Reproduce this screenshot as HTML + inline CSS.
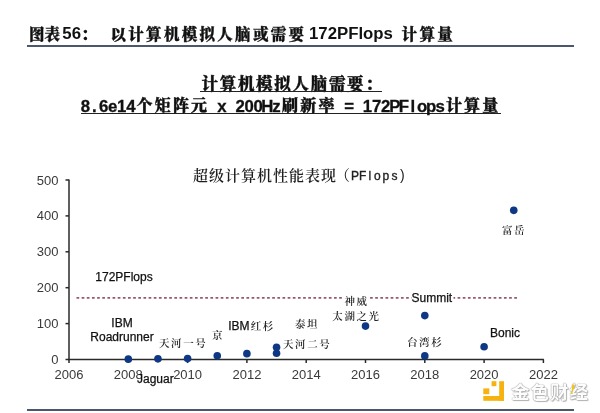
<!DOCTYPE html>
<html lang="zh-CN">
<head>
<meta charset="utf-8">
<style>
html,body{margin:0;padding:0;background:#fff;}
body{width:600px;height:413px;position:relative;overflow:hidden;}
.abs{position:absolute;white-space:nowrap;}
.t{font-size:15.5px;line-height:20px;color:#111;}
.cn{font-family:"Noto Serif CJK SC",serif;font-weight:900;-webkit-text-stroke:0.35px #111;}
.la{font-family:"Liberation Sans",Arial,sans-serif;font-weight:bold;font-size:16.8px;}
.mo{font-family:"Noto Sans Mono CJK SC",monospace;font-weight:bold;}
#hline{left:27px;top:45px;width:547px;height:2px;background:#4b576a;}
#bline{left:27px;top:409px;width:547px;height:2px;background:#4b576a;}
.s1{font-size:18.2px;line-height:22px;color:#111;}
.s1 .cn, .s1.cn{font-size:16.5px;letter-spacing:1.7px;}
.ul{height:1.5px;background:#222;}
svg{position:absolute;left:0;top:0;}
.lat{font-family:"Liberation Sans",Arial,sans-serif;font-size:12px;fill:#111;stroke:#111;stroke-width:0.25px;}
.cjk{font-family:"Noto Serif CJK SC",serif;font-weight:600;font-size:10.5px;letter-spacing:1.6px;fill:#222;}
.ax{font-family:"Liberation Sans",Arial,sans-serif;font-size:13px;fill:#3a3a3a;}
#wm{left:511px;top:379.5px;font:bold 18.5px/22px "Noto Sans CJK SC",sans-serif;color:#fcfcfc;letter-spacing:1px;
 text-shadow:0 0 1px #888,0 0 1px #999,1px 1px 1px #bbb;}
</style>
</head>
<body>
<div class="abs t cn" style="left:29px;top:23.4px;">图表</div>
<div class="abs t la" style="left:62.3px;top:23.5px;">56</div>
<div class="abs t cn" style="left:81px;top:23.4px;">：</div>
<div class="abs t cn" style="left:110.5px;top:23.4px;letter-spacing:2.3px;">以计算机模拟人脑或需要</div>
<div class="abs t la" style="left:309px;top:23.5px;">172PFlops</div>
<div class="abs t cn" style="left:401.5px;top:23.4px;letter-spacing:2.4px;">计算量</div>
<div class="abs" id="hline"></div>
<div class="abs s1 cn" style="left:201.5px;top:71.5px;">计算机模拟人脑需要：</div>
<div class="abs ul" style="left:200px;top:90.5px;width:182px;"></div>
<div class="abs ul" style="left:81px;top:112.5px;width:419.5px;"></div>

<svg width="600" height="413" viewBox="0 0 600 413">
  <text text-anchor="middle" fill="#111" stroke="#111" style="white-space:pre"><tspan x="85.35 94.45 103.55 112.65 121.75 130.85" y="111.6" font-family="Liberation Sans, Arial, sans-serif" font-weight="bold" font-size="16.8" stroke-width="0.3">8.6e14</tspan><tspan x="144.50 162.70 180.90 199.10" y="110.6" font-family="Noto Serif CJK SC, serif" font-weight="900" font-size="16" stroke-width="0.35">个矩阵元</tspan><tspan x="212.75 221.85 230.95 240.05 249.15 258.25 267.35 276.45" y="111.6" font-family="Liberation Sans, Arial, sans-serif" font-weight="bold" font-size="16.8" stroke-width="0.3"> x 200Hz</tspan><tspan x="290.10 308.30 326.50" y="110.6" font-family="Noto Serif CJK SC, serif" font-weight="900" font-size="16" stroke-width="0.35">刷新率</tspan><tspan x="340.15 349.25 358.35 367.45 376.55 385.65 394.75 403.85 412.95 422.05 431.15 440.25" y="111.6" font-family="Liberation Sans, Arial, sans-serif" font-weight="bold" font-size="16.8" stroke-width="0.3"> = 172PFlops</tspan><tspan x="453.90 472.10 490.30" y="110.6" font-family="Noto Serif CJK SC, serif" font-weight="900" font-size="16" stroke-width="0.35">计算量</tspan></text>
  <text x="193" y="180.5" font-family="Noto Serif CJK SC, serif" font-weight="600" font-size="15" letter-spacing="1" fill="#1e1e1e">超级计算机性能表现</text>
  <text x="335" y="180.5" font-family="Noto Serif CJK SC, serif" font-size="15" fill="#1e1e1e">（</text>
  <text x="351 359.1 368.4 374.1 382.4 391.5" y="179.5" font-family="Liberation Sans, Arial, sans-serif" font-size="12" fill="#222" stroke="#222" stroke-width="0.35">PFlops</text>
  <text x="400" y="179.5" font-family="Liberation Sans, Arial, sans-serif" font-size="14" fill="#222">)</text>
  <line x1="76.5" y1="297.9" x2="519" y2="297.9" stroke="#985a68" stroke-width="1.9" stroke-dasharray="2.7 2.45"/>
  <g stroke="#2a2a2a" stroke-width="1.5" fill="none">
    <line x1="69.0" y1="179.5" x2="69.0" y2="360.0"/>
    <line x1="68.3" y1="359.5" x2="543.9" y2="359.5"/>
    <line x1="65.5" y1="359.50" x2="69.0" y2="359.50"/>
    <line x1="65.5" y1="323.60" x2="69.0" y2="323.60"/>
    <line x1="65.5" y1="287.70" x2="69.0" y2="287.70"/>
    <line x1="65.5" y1="251.80" x2="69.0" y2="251.80"/>
    <line x1="65.5" y1="215.90" x2="69.0" y2="215.90"/>
    <line x1="65.5" y1="180.00" x2="69.0" y2="180.00"/>
    <line x1="69.00" y1="359.5" x2="69.00" y2="363.0"/>
    <line x1="128.30" y1="359.5" x2="128.30" y2="363.0"/>
    <line x1="187.60" y1="359.5" x2="187.60" y2="363.0"/>
    <line x1="246.90" y1="359.5" x2="246.90" y2="363.0"/>
    <line x1="306.20" y1="359.5" x2="306.20" y2="363.0"/>
    <line x1="365.50" y1="359.5" x2="365.50" y2="363.0"/>
    <line x1="424.80" y1="359.5" x2="424.80" y2="363.0"/>
    <line x1="484.10" y1="359.5" x2="484.10" y2="363.0"/>
    <line x1="543.40" y1="359.5" x2="543.40" y2="363.0"/>
  </g>
  <g class="ax" text-anchor="end">
    <text x="58.5" y="184.50">500</text>
    <text x="58.5" y="220.40">400</text>
    <text x="58.5" y="256.30">300</text>
    <text x="58.5" y="292.20">200</text>
    <text x="58.5" y="328.10">100</text>
    <text x="58.5" y="364.00">0</text>
  </g>
  <g class="ax" text-anchor="middle">
    <text x="69.00" y="378.5">2006</text>
    <text x="128.30" y="378.5">2008</text>
    <text x="187.60" y="378.5">2010</text>
    <text x="246.90" y="378.5">2012</text>
    <text x="306.20" y="378.5">2014</text>
    <text x="365.50" y="378.5">2016</text>
    <text x="424.80" y="378.5">2018</text>
    <text x="484.10" y="378.5">2020</text>
    <text x="543.40" y="378.5">2022</text>
  </g>
  <rect x="343" y="293" width="27" height="11" fill="#fff"/>
  <rect x="411.5" y="292" width="42" height="11" fill="#fff"/>
  <text class="lat" x="95.30" y="281.40">172PFlops</text>
  <text class="lat" x="122.00" y="326.70" text-anchor="middle">IBM</text>
  <text class="lat" x="122.00" y="340.80" text-anchor="middle">Roadrunner</text>
  <text class="cjk" x="159.00" y="346.70">天河一号</text>
  <text class="cjk" x="212.00" y="338.70">京</text>
  <text class="lat" x="228.20" y="329.50">IBM</text>
  <text class="cjk" x="250.70" y="329.50">红杉</text>
  <text class="cjk" x="295.00" y="327.80">泰坦</text>
  <text class="cjk" x="283.00" y="347.50">天河二号</text>
  <text class="cjk" x="356.50" y="304.50" text-anchor="middle">神威</text>
  <text class="cjk" x="356.50" y="319.50" text-anchor="middle">太湖之光</text>
  <text class="lat" x="411.50" y="301.80">Summit</text>
  <text class="cjk" x="407.00" y="345.80">台湾杉</text>
  <text class="lat" x="490.00" y="336.80">Bonic</text>
  <text class="cjk" x="502.00" y="233.50">富岳</text>
  <text class="lat" x="137.00" y="383.00">Jaguar</text>
  <g fill="#0f3884">
    <circle cx="128.30" cy="359.14" r="3.8"/>
    <circle cx="157.95" cy="358.87" r="3.8"/>
    <circle cx="187.60" cy="358.58" r="3.8"/>
    <circle cx="217.25" cy="355.73" r="3.8"/>
    <circle cx="246.90" cy="353.65" r="3.8"/>
    <circle cx="276.55" cy="353.18" r="3.8"/>
    <circle cx="276.55" cy="347.33" r="3.8"/>
    <circle cx="365.50" cy="326.11" r="3.8"/>
    <circle cx="424.80" cy="315.59" r="3.8"/>
    <circle cx="424.80" cy="355.91" r="3.8"/>
    <circle cx="484.10" cy="346.79" r="3.8"/>
    <circle cx="513.75" cy="210.34" r="3.8"/>
  </g>
  <g fill="#f6b20e">
    <rect x="491.6" y="381.2" width="4.8" height="5"/>
    <rect x="499.2" y="381.2" width="4.8" height="19.6"/>
    <rect x="483.3" y="396" width="20.7" height="4.8"/>
    <rect x="483.3" y="388.4" width="6" height="5.8"/>
  </g>
</svg>
<div class="abs" id="wm">金色财经</div>
<svg width="600" height="413" style="position:absolute;left:0;top:0"><polygon points="572.2,384.5 574.6,384.5 573.2,391.2 571.6,391.2" fill="#f2c418"/><rect x="571" y="392.3" width="1.8" height="1.6" fill="#f2c418"/></svg>
<div class="abs" id="bline"></div>
</body>
</html>
